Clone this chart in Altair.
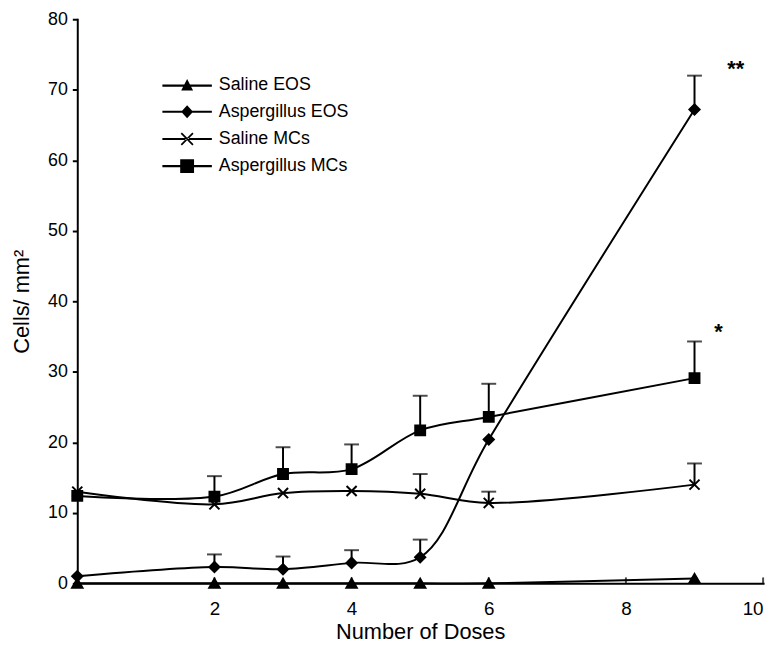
import altair as alt
import pandas as pd

# ---- data ----
doses = [0, 2, 3, 4, 5, 6, 9]
series_names = ["Saline EOS", "Aspergillus EOS", "Saline MCs", "Aspergillus MCs"]
saline_eos = [0.0, 0.0, 0.0, 0.0, 0.0, 0.0, 0.7]
asp_eos = [1.0, 2.3, 2.0, 2.9, 3.7, 20.4, 67.2]
saline_mcs = [13.0, 11.2, 12.8, 13.1, 12.7, 11.4, 14.0]
asp_mcs = [12.4, 12.3, 15.5, 16.2, 21.7, 23.6, 29.1]
saline_eos_err = [None, None, None, None, None, None, None]
asp_eos_err = [None, 4.1, 3.8, 4.7, 6.2, None, 72.0]
saline_mcs_err = [None, None, None, None, 15.5, 13.0, 17.0]
asp_mcs_err = [None, 15.2, 19.3, 19.7, 26.6, 28.3, 34.3]
x_tick_values = [2, 4, 6, 8, 10]
y_tick_values = [0, 10, 20, 30, 40, 50, 60, 70, 80]
annot_text = ["**", "*"]
annot_x = [9.6, 9.35]
annot_y = [73.0, 35.6]

values = [saline_eos, asp_eos, saline_mcs, asp_mcs]
errors = [saline_eos_err, asp_eos_err, saline_mcs_err, asp_mcs_err]
rows = []
for name, vals, errs in zip(series_names, values, errors):
    for d, v, e in zip(doses, vals, errs):
        rows.append({"series": name, "dose": d, "cells": v, "err": e})
df = pd.DataFrame(rows)
err_df = df.dropna(subset=["err"])
ticks_df = pd.DataFrame({"t": x_tick_values, "zero": [0] * len(x_tick_values)})
annot_df = pd.DataFrame({"text": annot_text, "x": annot_x, "y": annot_y})
legend_df = pd.DataFrame({"series": series_names, "dose": [0] * 4, "cells": [0] * 4})

FONT_AX = "Liberation Sans Narrow, Arial Narrow, Liberation Sans, Arial"
FONT = "Liberation Sans, Arial, sans-serif"

xs = alt.Scale(domain=[0, 10], nice=False, zero=False)
ys = alt.Scale(domain=[0, 80], nice=False)

x_enc = alt.X("dose:Q", scale=xs, axis=alt.Axis(
    values=x_tick_values, format="d", title="Number of Doses", grid=False, tickSize=0,
    labelFont=FONT_AX, labelFontSize=19, labelPadding=17, labelColor="black",
    titleFont=FONT, titleFontSize=22, titleFontWeight="normal", titlePadding=3,
    titleColor="black", domainColor="black", domainWidth=2))
y_enc = alt.Y("cells:Q", scale=ys, axis=alt.Axis(
    values=y_tick_values, format="d", title="Cells/ mm²", grid=False, tickSize=5, tickWidth=2,
    tickColor="black", labelFont=FONT_AX, labelFontSize=18, labelPadding=5,
    labelColor="black", titleFont=FONT, titleFontSize=22, titleFontWeight="normal",
    titlePadding=14, titleColor="black", domainColor="black", domainWidth=2))

lines = alt.Chart(df).mark_line(
    interpolate="catmull-rom", color="black", strokeWidth=2
).encode(x=x_enc, y=y_enc, detail="series:N")

err_rules = alt.Chart(err_df).mark_rule(color="black", strokeWidth=2).encode(
    x="dose:Q", y="cells:Q", y2="err:Q")
err_caps = alt.Chart(err_df).mark_tick(
    orient="horizontal", color="black", size=15, thickness=2
).encode(x="dose:Q", y="err:Q")

marker_shapes = ["triangle-up", "diamond", "M-1,-1L1,1M-1,1L1,-1", "square"]
points = alt.Chart(df).mark_point(
    fill="black", stroke="black", strokeWidth=2, opacity=1
).encode(
    x="dose:Q", y="cells:Q",
    shape=alt.Shape("series:N", scale=alt.Scale(domain=series_names, range=marker_shapes), legend=None),
    size=alt.Size("series:N", scale=alt.Scale(domain=series_names, range=[110, 100, 170, 130]), legend=None),
)

LINE = "M-5,-0.22H5V0.22H-5Z"
legend_shapes = [
    LINE + "M0,-1.3L1.2,1H-1.2Z",
    LINE + "M0,-1.3L1.2,0L0,1.3L-1.2,0Z",
    LINE + "M-1.3,-1.05L-1.05,-1.3L1.3,1.05L1.05,1.3Z" + "M1.3,-1.05L1.05,-1.3L-1.3,1.05L-1.05,1.3Z",
    LINE + "M-1.4,-1.4H1.4V1.4H-1.4Z",
]
legend_layer = alt.Chart(legend_df).transform_filter("false").mark_point(
    filled=True, color="black"
).encode(
    x="dose:Q", y="cells:Q",
    shape=alt.Shape("series:N", scale=alt.Scale(domain=series_names, range=legend_shapes),
                    legend=alt.Legend(orient="none", legendX=102, legendY=58, title=None,
                                      labelFont=FONT, labelFontSize=18, labelColor="black",
                                      labelOffset=23, rowPadding=7.5, symbolSize=100,
                                      symbolFillColor="black", symbolOpacity=1, padding=0)),
)

axis_ticks = alt.Chart(ticks_df).mark_tick(
    orient="vertical", color="black", size=6, thickness=2, yOffset=-3
).encode(x="t:Q", y="zero:Q")

annots = alt.Chart(annot_df).mark_text(
    font=FONT, fontSize=22, fontWeight="bold", color="black", baseline="middle"
).encode(x="x:Q", y="y:Q", text="text:N")

chart = alt.layer(lines, err_rules, err_caps, points, axis_ticks, annots, legend_layer).resolve_scale(
    shape="independent"
).properties(
    width=693, height=570,
    autosize=alt.AutoSizeParams(type="none"),
    padding={"left": 70, "top": 8, "right": 9, "bottom": 62},
).configure_view(stroke=None).configure_axis(domainCap="square")

chart.save("out.html", embed_options={"renderer": "svg", "actions": False})
